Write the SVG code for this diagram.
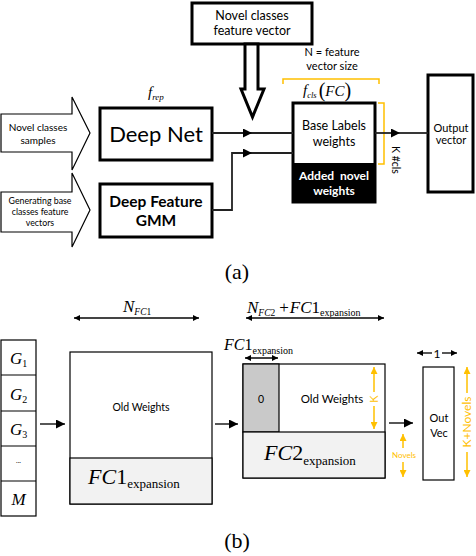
<svg xmlns="http://www.w3.org/2000/svg" width="476" height="556" viewBox="0 0 476 556">
<style>
.box{fill:#fff;stroke:#000;stroke-width:3}
.thin{fill:#fff;stroke:#000;stroke-width:1.2}
.sans{font-family:Lato,"Liberation Sans",sans-serif;fill:#000}
.serif{font-family:"Liberation Serif",serif;fill:#000}
.it{font-style:italic}
.con{fill:none;stroke:#222;stroke-width:1.8}
.conb{stroke:#444;stroke-width:1.8}
.or{fill:none;stroke:#FFC000;stroke-width:1.5}
.ortxt{font-family:Lato,"Liberation Sans",sans-serif;fill:#FFC000}
</style>
<defs>
<marker id="ah" viewBox="0 0 10 10" refX="10" refY="5" markerWidth="6" markerHeight="6" orient="auto-start-reverse" markerUnits="userSpaceOnUse">
<path d="M0,0 L10,5 L0,10 z" fill="#000"/>
</marker>
<marker id="big" viewBox="0 0 10 10" refX="10" refY="5" markerWidth="9" markerHeight="9" orient="auto" markerUnits="userSpaceOnUse">
<path d="M0,0 L10,5 L0,10 z" fill="#000"/>
</marker>
<marker id="ao" viewBox="0 0 10 10" refX="10" refY="5" markerWidth="7" markerHeight="7" orient="auto-start-reverse" markerUnits="userSpaceOnUse">
<path d="M0,0 L10,5 L0,10 z" fill="#FFC000"/>
</marker>
</defs>

<!-- Part (a) -->
<g id="novel-feature-vector">
<rect class="box" x="192" y="3" width="120" height="41"/>
<text class="sans" x="252" y="20" font-size="12.5" text-anchor="middle">Novel classes</text>
<text class="sans" x="252" y="35" font-size="12.5" text-anchor="middle">feature vector</text>
<polygon points="245,44 258,44 258,89 264,89 252.5,117 241,89 245,89" fill="#fff" stroke="#000" stroke-width="3" stroke-linejoin="miter"/>
</g>

<g id="novel-samples">
<polygon class="thin" points="1,114 72,114 72,97 90,133 72,170 72,152 1,152"/>
<text class="sans" x="38" y="131" font-size="10" text-anchor="middle">Novel classes</text>
<text class="sans" x="38" y="144" font-size="10" text-anchor="middle">samples</text>
</g>

<g id="generating-base">
<polygon class="thin" points="1,192 72,192 72,173 90,210 72,247 72,232 1,232"/>
<text class="sans" x="40" y="204" font-size="8.8" text-anchor="middle">Generating base</text>
<text class="sans" x="40" y="215" font-size="8.8" text-anchor="middle">classes feature</text>
<text class="sans" x="40" y="226" font-size="8.8" text-anchor="middle">vectors</text>
</g>

<g id="deep-net">
<text class="serif it" x="148" y="97" font-size="15">f<tspan font-size="9" dy="3">rep</tspan></text>
<rect class="box" x="100" y="108" width="112" height="52"/>
<text class="sans" x="156" y="142" font-size="22" text-anchor="middle">Deep Net</text>
</g>

<g id="deep-feature-gmm">
<rect class="box" x="100" y="184" width="112" height="53"/>
<text class="sans" x="156" y="207" font-size="15.5" font-weight="bold" text-anchor="middle">Deep Feature</text>
<text class="sans" x="156" y="226" font-size="15.5" font-weight="bold" text-anchor="middle">GMM</text>
</g>

<g id="fc-weights">
<text class="sans" x="332" y="56" font-size="11" text-anchor="middle">N = feature</text>
<text class="sans" x="332" y="70" font-size="11" text-anchor="middle">vector size</text>
<path class="or" d="M283,84 V79 H379 V84"/>
<text class="serif it" x="303" y="95" font-size="15">f<tspan font-size="8.5" dy="3">cls</tspan><tspan font-style="normal" font-size="20" dy="-1" dx="2">(</tspan><tspan dy="-1">FC</tspan><tspan font-style="normal" font-size="20" dy="1">)</tspan></text>
<rect x="293" y="103" width="82" height="99" fill="#000" stroke="#000" stroke-width="3"/>
<rect x="294.5" y="104.5" width="79" height="58.5" fill="#fff"/>
<text class="sans" x="334" y="130" font-size="12.5" text-anchor="middle">Base Labels</text>
<text class="sans" x="334" y="146" font-size="12.5" text-anchor="middle">weights</text>
<text class="sans" x="334" y="180" font-size="12" font-weight="bold" style="fill:#fff" text-anchor="middle" xml:space="preserve">Added  novel</text>
<text class="sans" x="334" y="195" font-size="12" font-weight="bold" style="fill:#fff" text-anchor="middle">weights</text>
<path class="or" d="M378,103 H384 V164 H378"/>
<text class="sans" x="0" y="0" font-size="10.5" text-anchor="middle" transform="translate(392,160) rotate(90)">K #cls</text>
</g>

<g id="output-vector">
<rect class="box" x="428" y="75" width="45" height="117"/>
<text class="sans" x="451" y="132" font-size="11" text-anchor="middle">Output</text>
<text class="sans" x="451" y="144" font-size="11" text-anchor="middle">vector</text>
</g>

<g id="connectors-a">
<line class="con" x1="212" y1="133" x2="252" y2="133" marker-end="url(#big)"/>
<line class="con" x1="252" y1="133" x2="293" y2="133"/>
<polyline class="con" points="212,210 232,210 232,153 252,153" marker-end="url(#big)"/>
<line class="con" x1="252" y1="153" x2="293" y2="153"/>
<line class="con" x1="375" y1="133" x2="400" y2="133" marker-end="url(#big)"/>
<line class="con" x1="400" y1="133" x2="428" y2="133"/>
</g>

<text class="serif" x="237" y="279" font-size="22" text-anchor="middle">(a)</text>

<!-- Part (b) -->
<g id="g-column">
<rect x="1" y="340" width="35" height="176" fill="#fff" stroke="#000" stroke-width="1.2"/>
<path d="M1,375 H36 M1,411 H36 M1,446 H36 M1,481 H36" stroke="#000" stroke-width="1.2"/>
<text class="serif it" x="10" y="364" font-size="17">G<tspan font-style="normal" font-size="10" dy="3">1</tspan></text>
<text class="serif it" x="10" y="400" font-size="17">G<tspan font-style="normal" font-size="10" dy="3">2</tspan></text>
<text class="serif it" x="10" y="435" font-size="17">G<tspan font-style="normal" font-size="10" dy="3">3</tspan></text>
<text class="sans" x="18.5" y="463" font-size="7" text-anchor="middle">...</text>
<text class="serif it" x="18.5" y="505" font-size="17" text-anchor="middle">M</text>
</g>

<g id="fc1">
<text class="serif it" x="123" y="312" font-size="17">N<tspan font-size="9.5" dy="3">FC</tspan><tspan font-size="9.5" font-style="normal">1</tspan></text>
<rect x="70" y="352" width="142" height="152" fill="#fff" stroke="#000" stroke-width="1.2"/>
<rect x="70" y="458" width="142" height="46" fill="#f2f2f2" stroke="#000" stroke-width="1.2"/>
<text class="sans" x="141" y="411" font-size="10.5" text-anchor="middle">Old Weights</text>
<text class="serif" x="88" y="484" font-size="22"><tspan font-style="italic">FC</tspan>1<tspan font-size="13" dy="4">expansion</tspan></text>
</g>

<g id="fc2">
<text class="serif" x="247" y="313" font-size="17"><tspan font-style="italic">N</tspan><tspan font-size="9.5" font-style="italic" dy="3">FC</tspan><tspan font-size="9.5">2</tspan><tspan dy="-3" dx="4">+</tspan><tspan font-style="italic" dx="1">FC</tspan>1<tspan font-size="10" dy="3">expansion</tspan></text>
<text class="serif" x="224" y="350" font-size="16"><tspan font-style="italic">FC</tspan>1<tspan font-size="10" dy="4">expansion</tspan></text>
<rect x="243" y="364" width="142" height="114" fill="#fff" stroke="#000" stroke-width="1.2"/>
<rect x="243" y="364" width="36" height="68" fill="#c9c9c9" stroke="#000" stroke-width="1.2"/>
<rect x="243" y="432" width="142" height="46" fill="#f2f2f2" stroke="#000" stroke-width="1.2"/>
<text class="sans" x="261" y="403" font-size="10.5" text-anchor="middle">0</text>
<text class="sans" x="332" y="403" font-size="11.5" text-anchor="middle">Old Weights</text>
<text class="serif" x="264" y="460" font-size="22"><tspan font-style="italic">FC</tspan>2<tspan font-size="13" dy="5">expansion</tspan></text>
<line class="or" x1="374" y1="367" x2="374" y2="392" marker-start="url(#ao)"/>
<line class="or" x1="374" y1="406" x2="374" y2="429" marker-end="url(#ao)"/>
<text class="ortxt" x="0" y="0" font-size="11" text-anchor="middle" transform="translate(378,399) rotate(-90)">K</text>
</g>

<g id="out-vec">
<rect x="423" y="367" width="31" height="113" fill="#fff" stroke="#000" stroke-width="1.2"/>
<text class="sans" x="439" y="422" font-size="11" text-anchor="middle">Out</text>
<text class="sans" x="439" y="437" font-size="11" text-anchor="middle">Vec</text>
<text class="sans" x="437" y="357.5" font-size="12" text-anchor="middle">1</text>
<line class="or" x1="403" y1="434" x2="403" y2="448" marker-start="url(#ao)"/>
<text class="ortxt" x="404" y="458" font-size="8" text-anchor="middle">Novels</text>
<line class="or" x1="403" y1="462" x2="403" y2="477" marker-end="url(#ao)"/>
<line class="or" x1="467" y1="367" x2="467" y2="393" marker-start="url(#ao)"/>
<line class="or" x1="467" y1="452" x2="467" y2="477" marker-end="url(#ao)"/>
<text class="ortxt" x="0" y="0" font-size="12" text-anchor="middle" transform="translate(471,422) rotate(-90)">K+Novels</text>
</g>

<g id="connectors-b">
<line class="conb" x1="74" y1="318" x2="199" y2="318" marker-start="url(#ah)" marker-end="url(#ah)"/>
<line class="conb" x1="246" y1="318" x2="384" y2="318" marker-start="url(#ah)" marker-end="url(#ah)"/>
<line class="conb" x1="245" y1="358" x2="278" y2="358" marker-start="url(#ah)" marker-end="url(#ah)"/>
<line class="conb" x1="417" y1="353" x2="432" y2="353" marker-start="url(#ah)"/>
<line class="conb" x1="442" y1="353" x2="457" y2="353" marker-end="url(#ah)"/>
<line class="conb" x1="40" y1="424" x2="65" y2="424" marker-end="url(#big)"/>
<line class="conb" x1="215" y1="424" x2="238" y2="424" marker-end="url(#big)"/>
<line class="conb" x1="389" y1="423" x2="413" y2="423" marker-end="url(#big)"/>
</g>

<text class="serif" x="237" y="548" font-size="22" text-anchor="middle">(b)</text>
</svg>
